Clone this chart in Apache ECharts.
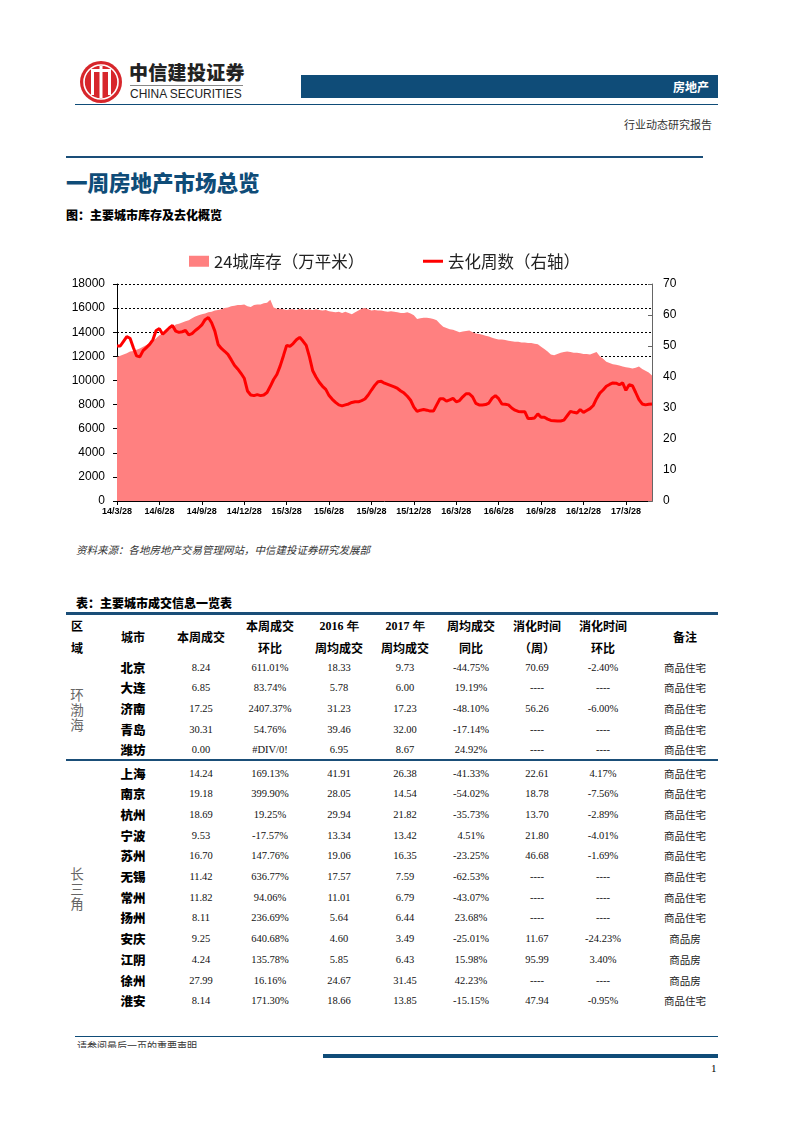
<!DOCTYPE html>
<html><head><meta charset="utf-8">
<script src="https://cdn.jsdelivr.net/npm/echarts@6/dist/echarts.min.js"></script>
<style>
body{margin:0;background:#fff;}
#page{position:relative;width:793px;height:1122px;overflow:hidden;font-family:"Noto Sans CJK SC",sans-serif;color:#000;}
.a{position:absolute;white-space:nowrap;line-height:1;}
.c{transform:translate(-50%,-50%);}
.num{font-family:"Liberation Serif",serif;font-size:10.5px;color:#111;}
.hd{font-weight:700;font-size:12px;}
</style></head><body><div id="page">
<!-- header -->
<svg class="a" style="left:79px;top:60px" width="44" height="44" viewBox="0 0 44 44">
  <circle cx="22" cy="22" r="21" fill="#d7262b"/>
  <circle cx="22" cy="22" r="17" fill="none" stroke="#fff" stroke-width="1.6"/>
  <rect x="12" y="9" width="3" height="26" fill="#fff"/>
  <rect x="20.5" y="6" width="3" height="32" fill="#fff"/>
  <rect x="29" y="9" width="3" height="26" fill="#fff"/>
  <rect x="12" y="9" width="20" height="3" fill="#fff"/>
</svg>
<div class="a" style="left:129px;top:62px;font-size:19px;font-weight:900;color:#222;letter-spacing:0.3px">中信建投证券</div>
<div class="a" style="left:130px;top:85px;width:113px;height:1px;background:#888"></div>
<div class="a" style="left:130px;top:87px;font-family:'Liberation Sans',sans-serif;font-size:13px;color:#222;transform:scaleX(0.92);transform-origin:left top;">CHINA SECURITIES</div>
<div class="a" style="left:301px;top:75px;width:417px;height:23px;background:#0f4c78"></div>
<div class="a" style="right:84px;top:81px;font-size:12px;font-weight:700;color:#fff">房地产</div>
<div class="a" style="left:75px;top:104px;width:643px;height:1px;background:#0f4c78"></div>
<div class="a" style="right:81px;top:119px;font-size:11px;color:#333">行业动态研究报告</div>
<div class="a" style="left:66px;top:156px;width:637px;height:2px;background:#1a4e78"></div>
<div class="a" style="left:66px;top:171px;font-size:21.5px;font-weight:900;color:#0f4c78">一周房地产市场总览</div>
<div class="a" style="left:66px;top:209px;font-size:12px;font-weight:900">图：主要城市库存及去化概览</div>

<div id="chart" class="a" style="left:60px;top:235px;width:670px;height:290px"></div>

<div class="a" style="left:76px;top:545px;font-size:10.5px;font-style:italic;color:#333">资料来源：各地房地产交易管理网站，中信建投证券研究发展部</div>
<div class="a" style="left:76px;top:597px;font-size:12px;font-weight:900">表：主要城市成交信息一览表</div>
<div class="a" style="left:66px;top:612px;width:652px;height:3px;background:#1a4e78"></div>
<div class="a" style="left:66px;top:759px;width:652px;height:2px;background:#1a4e78"></div>
<div id="table"></div>

<!-- footer -->
<div class="a" style="left:75px;top:1036px;width:643px;height:1px;background:#0f4c78"></div>
<div class="a" style="left:77px;top:1041px;height:7px;overflow:hidden;font-size:10px;color:#333"><span style="display:block;line-height:1">请参阅最后一页的重要声明</span></div>
<div class="a" style="left:323px;top:1054px;width:395px;height:4px;background:#0f4c78"></div>
<div class="a" style="left:711px;top:1063px;font-family:'Liberation Serif',serif;font-size:11px">1</div>
</div>
<script>
// ---------- chart data ----------
var startDate = [2014, 3, 28];
var tickLabels = ['14/3/28','14/6/28','14/9/28','14/12/28','15/3/28','15/6/28','15/9/28','15/12/28','16/3/28','16/6/28','16/9/28','16/12/28','17/3/28'];
var inventory = [
 11950,12050,12150,12250,12400,12450,12550,12650,12800,12950,
 13100,13300,13500,13750,13900,14050,14200,14400,14650,14700,
 14800,14900,15000,15150,15300,15400,15500,15550,15650,15700,
 15800,15850,15900,16000,16050,16150,16200,16250,16250,16300,
 16150,16100,16250,16300,16300,16400,16450,16700,16050,15950,
 15950,15900,15850,15900,15900,15850,15950,15900,15850,15900,
 15850,15900,15850,15800,15850,15750,15700,15650,15700,15600,
 15700,15600,15500,15650,15800,15950,16000,15900,15800,15850,
 15800,15800,15750,15700,15750,15700,15650,15600,15600,15650,
 15550,15400,15100,15150,15200,15200,15150,15100,15000,14700,
 14450,14350,14250,14200,14100,14000,14050,14100,14150,14000,
 13900,13850,13800,13700,13650,13550,13450,13400,13400,13350,
 13300,13250,13200,13200,13150,13150,13100,13100,13050,13000,
 12800,12600,12400,12150,12100,12200,12300,12350,12400,12350,
 12300,12300,12250,12200,12200,12150,12250,12350,12000,11800,
 11550,11450,11350,11300,11250,11150,11100,11050,11000,11050,
 11150,10950,10800,10650,10400];
var weeks = [
 50.0,50.0,51.5,53.0,52.5,49.5,46.8,46.5,48.5,49.5,
 50.5,52.0,55.0,55.6,53.8,54.8,55.8,56.6,54.8,54.4,
 54.6,55.0,53.6,54.0,55.0,55.8,56.8,58.5,59.2,57.5,
 54.8,50.5,49.2,48.3,47.3,45.6,43.8,42.6,41.2,39.6,
 35.5,34.2,34.0,34.3,34.0,34.2,35.0,37.0,39.2,40.8,
 43.5,46.8,50.2,49.9,50.8,52.0,52.8,51.6,50.2,46.5,
 42.0,40.0,38.3,37.0,36.0,34.0,32.8,31.8,31.0,30.7,
 31.0,31.3,31.8,32.0,32.0,32.4,32.9,34.2,35.8,37.3,
 38.5,38.6,38.0,37.6,37.2,36.8,36.3,35.5,34.8,33.8,
 32.5,30.3,28.9,29.3,29.5,29.3,29.0,29.0,31.0,33.0,
 33.0,32.2,32.6,33.1,32.0,32.4,33.6,34.6,34.6,33.6,
 31.5,31.0,31.0,31.1,31.6,33.2,34.0,33.0,31.3,31.2,
 31.0,30.0,29.3,28.9,28.8,28.8,26.6,26.6,26.8,28.1,
 27.0,27.0,26.4,26.0,25.9,25.8,25.8,26.1,27.5,28.9,
 28.6,28.4,29.5,28.6,29.2,29.8,30.8,33.0,34.8,35.8,
 37.0,37.6,38.1,38.0,37.5,38.1,35.7,37.5,37.2,35.0,
 32.7,31.3,31.0,31.2,31.3];
var seriesNames = ['24城库存（万平米）','去化周数（右轴）'];

// weekly category labels
var categories = [];
(function(){
  var d = new Date(startDate[0], startDate[1]-1, startDate[2]);
  for (var i = 0; i < inventory.length; i++) {
    var t = new Date(d.getTime() + i*7*86400000);
    categories.push((t.getFullYear()%100)+'/'+(t.getMonth()+1)+'/'+t.getDate());
  }
})();

// ---------- table data ----------
var tableHeader = [
  ['区','域'],['城市'],['本周成交'],['本周成交','环比'],['2016 年','周均成交'],['2017 年','周均成交'],['周均成交','同比'],['消化时间','（周）'],['消化时间','环比'],['备注']
];
var regionA = '环渤海';
var rowsA = [
 ['北京','8.24','611.01%','18.33','9.73','-44.75%','70.69','-2.40%','商品住宅'],
 ['大连','6.85','83.74%','5.78','6.00','19.19%','----','----','商品住宅'],
 ['济南','17.25','2407.37%','31.23','17.23','-48.10%','56.26','-6.00%','商品住宅'],
 ['青岛','30.31','54.76%','39.46','32.00','-17.14%','----','----','商品住宅'],
 ['潍坊','0.00','#DIV/0!','6.95','8.67','24.92%','----','----','商品住宅']
];
var regionB = '长三角';
var rowsB = [
 ['上海','14.24','169.13%','41.91','26.38','-41.33%','22.61','4.17%','商品住宅'],
 ['南京','19.18','399.90%','28.05','14.54','-54.02%','18.78','-7.56%','商品住宅'],
 ['杭州','18.69','19.25%','29.94','21.82','-35.73%','13.70','-2.89%','商品住宅'],
 ['宁波','9.53','-17.57%','13.34','13.42','4.51%','21.80','-4.01%','商品住宅'],
 ['苏州','16.70','147.76%','19.06','16.35','-23.25%','46.68','-1.69%','商品住宅'],
 ['无锡','11.42','636.77%','17.57','7.59','-62.53%','----','----','商品住宅'],
 ['常州','11.82','94.06%','11.01','6.79','-43.07%','----','----','商品住宅'],
 ['扬州','8.11','236.69%','5.64','6.44','23.68%','----','----','商品住宅'],
 ['安庆','9.25','640.68%','4.60','3.49','-25.01%','11.67','-24.23%','商品房'],
 ['江阴','4.24','135.78%','5.85','6.43','15.98%','95.99','3.40%','商品房'],
 ['徐州','27.99','16.16%','24.67','31.45','42.23%','----','----','商品房'],
 ['淮安','8.14','171.30%','18.66','13.85','-15.15%','47.94','-0.95%','商品住宅']
];

// ---------- table rendering ----------
(function(){
  var colX = [77,133,201,270,339,405,471,537,603,685];
  var html = '';
  function cell(txt, x, y, cls, extra){
    html += '<div class="a c '+(cls||'')+'" style="left:'+x+'px;top:'+y+'px;'+(extra||'')+'">'+txt+'</div>';
  }
  tableHeader.forEach(function(h,i){
    if (h.length === 2) { cell(h[0], colX[i], 626, 'hd', h[0].indexOf('20')===0?'font-family:Liberation Serif,serif;font-weight:700;':''); cell(h[1], colX[i], 648, 'hd'); }
    else cell(h[0], colX[i], 637, 'hd');
  });
  function rows(list, y0, step){
    list.forEach(function(r,k){
      var y = y0 + k*step;
      cell(r[0], colX[1], y, '', 'font-size:12.5px;font-weight:900;');
      for (var j=1;j<8;j++) cell(r[j], colX[j+1], y, 'num');
      cell(r[8], colX[9], y, '', 'font-size:10.5px;color:#222;');
    });
  }
  rows(rowsA, 667.5, 20.7);
  rows(rowsB, 773.5, 20.7);
  function vert(txt, x, yc){
    var chars = txt.split('');
    chars.forEach(function(ch,i){ cell(ch, x, yc + (i-(chars.length-1)/2)*15, '', 'font-size:13.5px;color:#666;'); });
  }
  vert(regionA, 77, 710);
  vert(regionB, 77, 889);
  document.getElementById('table').innerHTML = html;
})();

// ---------- chart ----------
var chart = echarts.init(document.getElementById('chart'), null, {renderer:'canvas'});
var lbl = {fontFamily:'Liberation Sans, Arial, sans-serif', color:'#000'};
chart.setOption({
  animation:false,
  legend:[
    {data:[{name:seriesNames[0], icon:'rect'}], left:124, top:13, itemWidth:20, itemHeight:11,
     textStyle:{fontFamily:'Noto Sans CJK SC', fontSize:16.5, color:'#222'}},
    {data:[{name:seriesNames[1], icon:'rect'}], left:358, top:13, itemWidth:20, itemHeight:3,
     textStyle:{fontFamily:'Noto Sans CJK SC', fontSize:16.5, color:'#222'}}
  ],
  grid:{left:57, top:49, width:535, height:217, containLabel:false},
  xAxis:{
    type:'category', data:categories, boundaryGap:false,
    axisLine:{lineStyle:{color:'#000', width:1}},
    axisTick:{show:true, length:4, lineStyle:{color:'#000'}, interval:function(i){return i%13===0;}},
    axisLabel:Object.assign({}, lbl, {fontSize:9, fontWeight:'bold', margin:6,
      interval:function(i){return i%13===0;},
      formatter:function(v,i){return tickLabels[Math.round(i/13)] || '';}}),
    splitLine:{show:false}
  },
  yAxis:[
    {type:'value', min:0, max:18000, interval:2000,
     axisLine:{show:true, lineStyle:{color:'#000'}},
     axisTick:{show:true, length:4, lineStyle:{color:'#000'}},
     axisLabel:Object.assign({}, lbl, {fontSize:12, margin:12, formatter:function(v){return String(v);}}),
     splitLine:{show:true, lineStyle:{color:'#000', type:[2,2], width:1}}},
    {type:'value', min:0, max:70, interval:10, position:'right',
     axisLine:{show:true, lineStyle:{color:'#666'}},
     axisTick:{show:true, length:4, inside:true, lineStyle:{color:'#666'}},
     axisLabel:Object.assign({}, lbl, {fontSize:12, margin:11, formatter:function(v){return String(v);}}),
     splitLine:{show:false}}
  ],
  series:[
    {name:seriesNames[0], type:'line', yAxisIndex:0, data:inventory, symbol:'none',
     lineStyle:{width:0, color:'#ff8080'}, itemStyle:{color:'#ff8080'},
     areaStyle:{color:'#ff8080', opacity:1}, z:1},
    {name:seriesNames[1], type:'line', yAxisIndex:1, data:weeks, symbol:'none',
     lineStyle:{width:3, color:'#ff0000'}, itemStyle:{color:'#ff0000'}, z:3}
  ]
});
</script>
</body></html>
